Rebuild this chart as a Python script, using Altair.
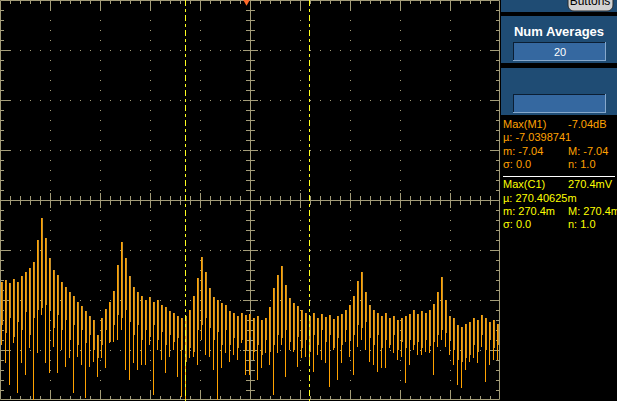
import altair as alt
import pandas as pd

# Spectrum trace, one entry per bin group; dB with 10 dB/div, top of screen = 0 dB
top_db = [
    -56.4, -56.0, -56.6, -55.8, -56.4, -55.2, -54.4, -53.6, -52.4, -48.0,
    -43.6, -47.6, -51.6, -54.0, -55.0, -56.4, -57.4, -58.4, -59.2, -60.4,
    -61.2, -62.2, -63.2, -64.0, -67.0, -63.6, -61.8, -60.4, -58.2, -53.0,
    -48.4, -51.6, -55.2, -57.4, -58.4, -59.2, -60.0, -59.4, -60.4, -60.0,
    -61.0, -61.4, -62.2, -62.6, -63.2, -63.6, -63.2, -62.0, -59.2, -55.6,
    -51.4, -54.4, -57.6, -59.4, -60.0, -60.6, -61.0, -62.2, -62.6, -63.2,
    -62.6, -63.0, -62.8, -63.6, -63.2, -64.0, -63.6, -61.4, -57.6, -55.0,
    -53.2, -57.0, -59.6, -60.6, -61.2, -62.0, -62.6, -63.2, -62.6, -63.6,
    -62.8, -63.4, -63.0, -63.8, -63.2, -62.8, -62.0, -61.0, -59.2, -56.2,
    -54.4, -58.4, -61.0, -62.0, -62.6, -63.2, -62.6, -63.6, -63.2, -64.0,
    -63.6, -63.2, -62.8, -62.0, -62.8, -62.2, -62.6, -62.0, -60.8, -58.4,
    -55.4, -60.0, -63.2, -63.6, -65.0, -65.4, -64.8, -64.4, -63.6, -64.0,
    -63.0, -63.6, -64.4, -64.0, -64.8,
]
mid_db = [
    -65.0, -66.6, -63.6, -67.4, -64.4, -66.0, -62.4, -67.0, -63.6, -62.0,
    -61.6, -61.0, -62.0, -65.6, -63.0, -66.0, -64.0, -68.0, -65.0, -69.0,
    -66.0, -68.6, -67.0, -70.0, -71.6, -69.0, -66.0, -68.4, -65.0, -63.0,
    -63.6, -62.0, -64.4, -67.0, -65.0, -68.0, -66.0, -67.4, -65.0, -68.0,
    -66.4, -69.0, -67.0, -68.4, -67.6, -70.0, -72.4, -69.6, -70.4, -66.0,
    -65.0, -63.6, -65.6, -68.0, -66.4, -69.0, -66.0, -69.0, -67.6, -69.6,
    -68.0, -70.0, -67.4, -70.4, -69.0, -71.0, -68.0, -70.4, -69.0, -67.0,
    -67.6, -66.0, -68.4, -70.0, -67.4, -69.6, -68.0, -70.4, -67.0, -69.0,
    -66.0, -68.4, -67.0, -69.6, -67.6, -69.0, -66.0, -68.0, -67.0, -65.0,
    -65.6, -64.4, -67.6, -69.0, -67.0, -69.6, -68.0, -69.0, -67.0, -70.0,
    -68.4, -69.6, -68.0, -69.0, -68.4, -69.6, -68.0, -69.2, -68.4, -67.0,
    -66.0, -66.6, -68.0, -70.0, -72.0, -72.4, -71.6, -71.0, -69.0, -70.4,
    -67.0, -70.0, -68.0, -69.6, -69.0,
]
low_db = [
    -69.0, -72.6, -77.0, -68.6, -78.6, -72.6, -75.0, -69.6, -80.0, -70.6,
    -63.0, -72.6, -74.6, -69.4, -74.6, -70.0, -73.4, -71.6, -78.6, -71.4,
    -73.0, -79.6, -73.4, -72.4, -75.4, -71.6, -73.6, -68.6, -68.4, -68.0,
    -66.0, -74.0, -76.0, -72.6, -74.0, -73.0, -73.0, -69.0, -79.0, -70.0,
    -72.0, -74.6, -71.4, -70.0, -75.4, -79.4, -80.0, -71.6, -71.4, -73.0,
    -68.0, -71.0, -71.4, -74.0, -80.0, -73.6, -70.6, -72.4, -71.0, -72.0,
    -68.6, -75.0, -75.0, -72.0, -76.0, -73.6, -70.6, -73.0, -79.0, -70.6,
    -69.0, -75.4, -70.0, -70.4, -73.4, -71.6, -71.4, -73.0, -74.4, -71.0,
    -72.0, -72.6, -77.4, -70.0, -76.0, -72.6, -68.4, -71.4, -75.0, -69.4,
    -68.0, -70.0, -72.4, -73.0, -74.4, -73.6, -73.6, -69.6, -70.6, -72.0,
    -71.4, -76.6, -73.0, -70.0, -71.0, -71.0, -70.4, -70.6, -75.0, -69.4,
    -68.0, -69.4, -71.0, -73.0, -77.0, -77.6, -74.0, -72.4, -71.6, -72.6,
    -69.4, -76.4, -73.0, -72.0, -72.0,
]

cursor_x_div = [3.7, 6.18]          # two cursors, in divisions
trigger_x_div = [4.93]              # trigger position marker

grid_x_div = [1, 2, 3, 4, 6, 7, 8, 9]
grid_y_db = [-10, -20, -30, -50, -60, -70]
center_x_div = [5]
center_y_db = [-40]

meas1_left = ["Max(M1)", "\u00b5: -7.0398741", "m: -7.04", "\u03c3: 0.0"]
meas1_right = ["-7.04dB", "", "M: -7.04", "n: 1.0"]
meas2_left = ["Max(C1)", "\u00b5: 270.40625m", "m: 270.4m", "\u03c3: 0.0"]
meas2_right = ["270.4mV", "", "M: 270.4m", "n: 1.0"]
panel_title = "Num Averages"
num_averages = "20"
button_label = "Buttons"

# ---------------- styling ----------------
TAN = "#a39c78"
ORANGE = "#ffa200"
DIM = "#c58f2c"
YELLOW = "#ffff20"
PANEL = "#1f4c74"
BOX = "#3568a0"
FONT = "Liberation Sans"

XS = alt.Scale(domain=[0, 10], nice=False, zero=False)
YS = alt.Scale(domain=[-80, 0], nice=False, zero=False)

minor_x = [i / 5 for i in range(1, 50) if i % 5 != 0]
major_x = [i / 5 for i in range(5, 50, 5)]
minor_y = [-2 * i for i in range(1, 40) if i % 5 != 0]
major_y = [-2 * i for i in range(5, 40, 5)]
ONE = pd.DataFrame({"n": [0]})


def vrules(xs, y0, y1, color=TAN, **kw):
    return alt.Chart(pd.DataFrame({"x": xs})).mark_rule(
        color=color, strokeWidth=1, xOffset=0.5, **kw
    ).encode(x=alt.X("x:Q", scale=XS, axis=None), y=alt.value(y0), y2=alt.value(y1))


def hrules(ys, x0, x1, color=TAN, **kw):
    return alt.Chart(pd.DataFrame({"y": ys})).mark_rule(
        color=color, strokeWidth=1, yOffset=0.5, **kw
    ).encode(y=alt.Y("y:Q", scale=YS, axis=None), x=alt.value(x0), x2=alt.value(x1))


def box(x0, x1, y0, y1, fill, **kw):
    return alt.Chart(ONE).mark_rect(fill=fill, **kw).encode(
        x=alt.value(x0), x2=alt.value(x1), y=alt.value(y0), y2=alt.value(y1))


def line(x0, x1, y0, y1, color):
    return alt.Chart(ONE).mark_rule(color=color, strokeWidth=1).encode(
        x=alt.value(x0), x2=alt.value(x1), y=alt.value(y0), y2=alt.value(y1))


def label(s, x, y, color, size=11, weight="normal", align="left"):
    return alt.Chart(pd.DataFrame({"t": [s]})).mark_text(
        color=color, fontSize=size, font=FONT, fontWeight=weight,
        align=align, baseline="alphabetic",
    ).encode(text="t:N", x=alt.value(x), y=alt.value(y))


layers = []
# graticule
layers.append(vrules(grid_x_div, 0, 400, strokeDash=[1, 9]))
layers.append(hrules(grid_y_db, 0, 500, strokeDash=[1, 9]))
layers.append(vrules(center_x_div, 0, 400))
layers.append(hrules(center_y_db, 0, 500))
layers += [vrules(minor_x, 0, 4), vrules(major_x, 0, 10),
           vrules(minor_x, 396, 400), vrules(major_x, 390, 400),
           hrules(minor_y, 0, 4), hrules(major_y, 0, 10),
           hrules(minor_y, 496, 500), hrules(major_y, 490, 500),
           vrules(minor_x, 196, 205), vrules(major_x, 193, 208),
           hrules(minor_y, 246, 255), hrules(major_y, 243, 258)]
layers.append(box(0.5, 499.5, 0.5, 399.5, "transparent", stroke=TAN, strokeWidth=1, filled=False))

# trace
trace = pd.DataFrame({"k": list(range(len(top_db))), "top": top_db, "mid": mid_db, "low": low_db})
base = alt.Chart(trace).transform_calculate(
    xo="(datum.k + 0.375) / 12.5", xt="(datum.k + 0.625) / 12.5")
layers.append(base.mark_rule(color=ORANGE, strokeWidth=1).encode(
    x=alt.X("xo:Q", scale=XS, axis=None), y=alt.Y("top:Q", scale=YS, axis=None), y2="low:Q"))
layers.append(base.mark_rule(color=DIM, strokeWidth=1).encode(
    x=alt.X("xt:Q", scale=XS, axis=None), y=alt.Y("top:Q", scale=YS, axis=None), y2="mid:Q"))

# cursors and trigger marker
layers.append(vrules(cursor_x_div, 0, 401, color=YELLOW, strokeDash=[6, 3, 3, 3]))
layers.append(alt.Chart(pd.DataFrame({"x": trigger_x_div})).mark_point(
    shape="triangle-down", filled=True, color="#ff6a2a", size=55, opacity=1
).encode(x=alt.X("x:Q", scale=XS, axis=None), y=alt.value(2.5)))

# side panel
layers += [box(501, 617, 0, 12, PANEL), box(501, 617, 16, 63, PANEL), box(501, 617, 68, 115, PANEL)]
for y0, y1 in [(42, 61), (94, 113)]:
    layers += [box(513, 606, y0, y1, BOX),
               line(513, 606, y0 + 0.5, y0 + 0.5, "#0b1e33"),
               line(513.5, 513.5, y0, y1, "#0b1e33"),
               line(513, 606, y1 - 0.5, y1 - 0.5, "#86a8cc"),
               line(605.5, 605.5, y0, y1, "#86a8cc")]
layers.append(box(568, 613, -8, 11, "#d2d2d2", stroke="#2a2a2a", strokeWidth=1, cornerRadius=6))
layers.append(label(button_label, 590, 5, "#000000", size=12, align="center"))
layers.append(label(panel_title, 559, 36, "#ffffff", size=13, weight="bold", align="center"))
layers.append(label(num_averages, 560, 56, "#ffffff", size=11, align="center"))

for i, (a, b) in enumerate(zip(meas1_left, meas1_right)):
    y = [128, 141, 155, 168][i]
    layers.append(label(a, 503, y, ORANGE))
    if b:
        layers.append(label(b, 568, y, ORANGE))
layers.append(line(503, 615, 176.5, 176.5, "#ffffff"))
for i, (a, b) in enumerate(zip(meas2_left, meas2_right)):
    y = [188, 202, 215, 228][i]
    layers.append(label(a, 503, y, "#ffff00"))
    if b:
        layers.append(label(b, 568, y, "#ffff00"))

chart = alt.layer(*layers).properties(
    width=500, height=400,
    padding={"left": 0, "top": 0, "right": 117, "bottom": 1},
    autosize=alt.AutoSizeParams(type="none"),
    background="#000000",
).configure_view(stroke=None)

chart.save("out.html", embed_options={"renderer": "svg", "actions": False})
